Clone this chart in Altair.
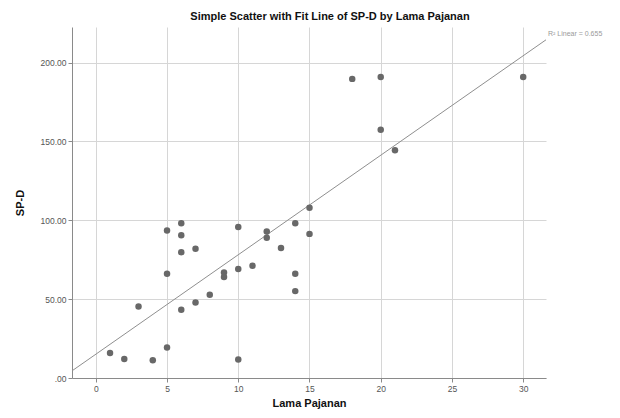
import altair as alt
import pandas as pd

lama_pajanan = [1, 2, 4, 5, 3, 5, 5, 6, 6, 6, 7, 6, 7, 8, 9, 9, 10, 10, 11, 10,
                12, 12, 13, 14, 15, 15, 14, 14, 18, 20, 20, 21, 30]
sp_d = [15.8, 12.0, 11.2, 19.4, 45.4, 66.1, 93.6, 98.2, 90.6, 79.8, 81.9, 43.3,
        47.9, 52.8, 66.9, 64.0, 95.7, 69.1, 71.2, 11.8, 92.9, 88.9, 82.4, 98.2,
        107.9, 91.4, 66.1, 55.1, 189.7, 190.9, 157.5, 144.5, 190.9]
x_ticks = [0, 5, 10, 15, 20, 25, 30]
y_ticks = [0, 50, 100, 150, 200]
r2_label = "R\u00b2 Linear = 0.655"

df = pd.DataFrame({"x": lama_pajanan, "y": sp_d})

FONT = "Liberation Sans"
xdom = [-1.67, 31.6]
ydom = [0, 222.6]

xenc = alt.X("x:Q", scale=alt.Scale(domain=xdom, nice=False, zero=False),
             axis=alt.Axis(values=x_ticks, title="Lama Pajanan", format="d",
                           titleY=30, titleBaseline="bottom"))
yenc = alt.Y("y:Q", scale=alt.Scale(domain=ydom, nice=False),
             axis=alt.Axis(values=y_ticks, title="SP-D",
                           labelExpr="datum.value == 0 ? '.00' : format(datum.value, '.2f')",
                           titleX=-47, titleBaseline="bottom"))

base = alt.Chart(df)

points = base.mark_circle(size=42, color="#686868", opacity=1).encode(x=xenc, y=yenc)

fit = base.transform_regression("x", "y", extent=xdom).mark_line(
    color="#8f8f8f", strokeWidth=1, clip=True
).encode(x="x:Q", y="y:Q")

r2 = alt.Chart(pd.DataFrame({"t": [r2_label]})).mark_text(
    align="left", baseline="middle", fontSize=7, color="#9a9a9a", font=FONT
).encode(x=alt.value(476), y=alt.value(7), text="t:N")

chart = alt.layer(fit, points, r2).properties(
    width=474, height=351,
    title=alt.TitleParams(
        "Simple Scatter with Fit Line of SP-D by Lama Pajanan",
        fontSize=11, fontWeight="bold", font=FONT, color="#111",
        anchor="middle", dx=21, offset=5
    ),
    autosize=alt.AutoSizeParams(type="none"),
    padding={"left": 64, "top": 19, "right": 66, "bottom": 32},
).configure_view(stroke=None).configure_axis(
    gridColor="#d6d6d6", gridWidth=1,
    domainColor="#8a8a8a", tickColor="#8a8a8a", tickSize=4,
    labelFont=FONT, labelFontSize=8.5, labelColor="#555", labelPadding=2,
    titleFont=FONT, titleFontSize=11, titleFontWeight="bold", titleColor="#111",
)

chart.save("out.html", embed_options={"renderer": "svg", "actions": False})
